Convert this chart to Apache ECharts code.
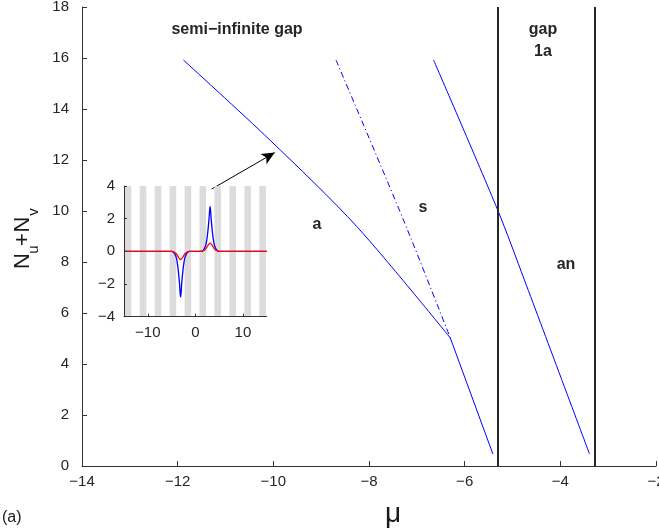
<!DOCTYPE html>
<html>
<head>
<meta charset="utf-8">
<script src="https://cdn.jsdelivr.net/npm/echarts@6/dist/echarts.min.js"></script>
<style>
  html, body { margin: 0; padding: 0; background: #fff; }
  #chart { width: 659px; height: 531px; }
</style>
</head>
<body>
<div id="chart"></div>
<script>
// Soliton families: total power N_u+N_v versus chemical potential mu
const branchA_mu = [-11.88, -10.07, -8.25, -6.30];
const branchA_N  = [15.92, 12.78, 9.38, 5.02];
const branchA2_mu = [-6.30, -5.41];
const branchA2_N  = [5.02, 0.47];
const branchS_mu = [-8.69, -7.28, -6.30];
const branchS_N  = [15.92, 9.65, 5.02];
const branchAn_mu = [-6.65, -5.31, -4.75, -3.39];
const branchAn_N  = [15.92, 10.04, 7.29, 0.47];

// Band edges bounding gap 1a
const gapEdges = [-5.31, -3.29];

// Main axis ticks
const xTicks = [-14, -12, -10, -8, -6, -4, -2];
const yTicks = [0, 2, 4, 6, 8, 10, 12, 14, 16, 18];

// Inset: field profiles u (blue) and v (red) of the soliton
const profX = [-15, -5, -4.6, -4.1, -3.85, -3.6, -3.35, -3.1, -2.85, -2.6, -2.35, -2.1, -1.6, -1.2,
               1.2, 1.6, 2.1, 2.35, 2.6, 2.85, 3.1, 3.35, 3.6, 3.85, 4.1, 4.6, 5, 15];
const profU = [0, 0, -0.04, -0.3, -0.6, -1.15, -1.9, -2.8, -1.9, -1.15, -0.6, -0.3, -0.04, 0,
               0, 0.04, 0.3, 0.6, 1.15, 1.9, 2.75, 1.9, 1.15, 0.6, 0.3, 0.04, 0, 0];
const profV = [0, 0, -0.03, -0.12, -0.22, -0.34, -0.44, -0.5, -0.44, -0.34, -0.22, -0.12, -0.03, 0,
               0, 0.03, 0.12, 0.22, 0.34, 0.44, 0.5, 0.44, 0.34, 0.22, 0.12, 0.03, 0, 0];
// Lattice stripes (centres and width, in x units)
const stripeCenters = [-14.14, -11.0, -7.85, -4.71, -1.57, 1.57, 4.71, 7.85, 11.0, 14.14];
const stripeWidth = 1.38;
const insetXTicks = [-10, 0, 10];
const insetYTicks = [-4, -2, 0, 2, 4];
const insetYRange = [-4, 4];

// Arrow from the inset to the point on branch a
const arrowFrom = [-11.29, 10.86];
const arrowTo = [-9.97, 12.29];

const FONT = '"Liberation Sans", Arial, Helvetica, sans-serif';
const AXIS_COLOR = '#333';
const TEXT_COLOR = '#262626';
const LABEL_COLOR = '#1a1a1a';
const minus = v => String(v).replace('-', '\u2212');
const pairs = (xs, ys) => xs.map((x, i) => [x, ys[i]]);

const chart = echarts.init(document.getElementById('chart'), null, { renderer: 'canvas' });

const lineBase = {
  type: 'line', showSymbol: false, symbol: 'none', silent: true,
  xAxisIndex: 0, yAxisIndex: 0, animation: false
};

// Rotated y-axis title "N_u + N_v" built from pieces (local x = reading direction)
function yTitlePiece(text, size, along, across) {
  return {
    type: 'text', x: along, y: across,
    style: { text: text, fontSize: size, fontFamily: FONT, fill: LABEL_COLOR, align: 'center', verticalAlign: 'middle' }
  };
}
const boldLabel = (text, x, y) => ({
  type: 'text', x: x, y: y, z: 20,
  style: { text: text, fontSize: 16, fontWeight: 'bold', fontFamily: FONT, fill: TEXT_COLOR, align: 'center', verticalAlign: 'middle' }
});

const option = {
  animation: false,
  backgroundColor: '#fff',
  grid: [
    { left: 82, top: 7, right: 3, bottom: 65, containLabel: false, outerBoundsMode: 'none' },
    { left: 124, top: 186, width: 142.7, height: 130.7, containLabel: false, outerBoundsMode: 'none',
      backgroundColor: '#fff', show: true, borderWidth: 0, z: 5 }
  ],
  xAxis: [
    {
      gridIndex: 0, type: 'value', min: -14, max: -2, interval: 2,
      axisLine: { show: true, onZero: false, lineStyle: { color: AXIS_COLOR, width: 1 } },
      axisTick: { show: true, inside: true, length: 5, lineStyle: { color: AXIS_COLOR } },
      axisLabel: { color: TEXT_COLOR, fontSize: 15, fontFamily: FONT, margin: 8, formatter: minus,
                   customValues: xTicks },
      splitLine: { show: false }
    },
    {
      gridIndex: 1, type: 'value', min: -15, max: 15,
      axisLine: { show: true, onZero: false, lineStyle: { color: AXIS_COLOR, width: 1 } },
      axisTick: { show: true, inside: true, length: 3, customValues: insetXTicks, lineStyle: { color: AXIS_COLOR } },
      axisLabel: { color: TEXT_COLOR, fontSize: 15, fontFamily: FONT, margin: 9, formatter: minus,
                   customValues: insetXTicks },
      splitLine: { show: false }, z: 9
    }
  ],
  yAxis: [
    {
      gridIndex: 0, type: 'value', min: 0, max: 18, interval: 2,
      axisLine: { show: true, onZero: false, lineStyle: { color: AXIS_COLOR, width: 1 } },
      axisTick: { show: true, inside: true, length: 5, lineStyle: { color: AXIS_COLOR } },
      axisLabel: { color: TEXT_COLOR, fontSize: 15, fontFamily: FONT, margin: 13, formatter: minus,
                   customValues: yTicks },
      splitLine: { show: false }
    },
    {
      gridIndex: 1, type: 'value', min: insetYRange[0], max: insetYRange[1], interval: 2,
      axisLine: { show: true, onZero: false, lineStyle: { color: AXIS_COLOR, width: 1 } },
      axisTick: { show: true, inside: true, length: 3, lineStyle: { color: AXIS_COLOR } },
      axisLabel: { color: TEXT_COLOR, fontSize: 15, fontFamily: FONT, margin: 9, formatter: minus,
                   customValues: insetYTicks },
      splitLine: { show: false }, z: 9
    }
  ],
  series: [
    Object.assign({}, lineBase, {
      name: 'a', data: pairs(branchA_mu, branchA_N), smooth: 0.3,
      lineStyle: { color: '#0000ff', width: 1 }
    }),
    Object.assign({}, lineBase, {
      name: 'a2', data: pairs(branchA2_mu, branchA2_N),
      lineStyle: { color: '#0000ff', width: 1 }
    }),
    Object.assign({}, lineBase, {
      name: 's', data: pairs(branchS_mu, branchS_N), smooth: 0.3,
      lineStyle: { color: '#0000ff', width: 1, type: [6, 3, 1.2, 3] }
    }),
    Object.assign({}, lineBase, {
      name: 'an', data: pairs(branchAn_mu, branchAn_N), smooth: 0.3,
      lineStyle: { color: '#0000ff', width: 1 }
    }),
    Object.assign({}, lineBase, {
      name: 'edges', data: [[-10, -1]],
      markLine: {
        silent: true, symbol: ['none', 'none'], label: { show: false }, animation: false,
        lineStyle: { color: '#262626', width: 2, type: 'solid' },
        data: gapEdges.map(v => ({ xAxis: v }))
      }
    }),
    Object.assign({}, lineBase, {
      name: 'arrow', data: [[-10, -1]], z: 10,
      markLine: {
        silent: true, symbol: ['none', 'arrow'], symbolSize: [9, 13], label: { show: false }, animation: false,
        lineStyle: { color: '#000', width: 1, type: 'solid' },
        data: [[{ coord: arrowFrom }, { coord: arrowTo }]]
      }
    }),
    // inset: lattice stripes
    {
      type: 'custom', name: 'lattice', xAxisIndex: 1, yAxisIndex: 1, z: 6, silent: true,
      data: stripeCenters.map(c => [c]),
      renderItem: function (params, api) {
        const c = api.value(0);
        const p0 = api.coord([c - stripeWidth / 2, insetYRange[1]]);
        const p1 = api.coord([c + stripeWidth / 2, insetYRange[0]]);
        return {
          type: 'rect',
          shape: { x: p0[0], y: p0[1], width: p1[0] - p0[0], height: p1[1] - p0[1] },
          style: { fill: '#dcdcdc' }
        };
      }
    },
    {
      type: 'line', name: 'u', data: pairs(profX, profU), xAxisIndex: 1, yAxisIndex: 1, z: 7,
      showSymbol: false, symbol: 'none', smooth: 0.4, silent: true,
      lineStyle: { color: '#0000ff', width: 1.3 }
    },
    {
      type: 'line', name: 'v', data: pairs(profX, profV), xAxisIndex: 1, yAxisIndex: 1, z: 8,
      showSymbol: false, symbol: 'none', smooth: 0.4, silent: true,
      lineStyle: { color: '#ff0000', width: 1.3 }
    }
  ],
  graphic: [
    {
      type: 'group', x: 0, y: 237, rotation: Math.PI / 2, z: 20,
      children: [
        yTitlePiece('N', 22, -24, 23),
        yTitlePiece('u', 15, -12.5, 34),
        yTitlePiece('+', 22, -2.5, 23),
        yTitlePiece('N', 22, 12.5, 23),
        yTitlePiece('v', 15, 25, 34)
      ]
    },
    { type: 'text', x: 393, y: 514, z: 20,
      style: { text: '\u03bc', fontSize: 28, fontFamily: FONT, fill: LABEL_COLOR, align: 'center', verticalAlign: 'middle' } },
    { type: 'text', x: 2, y: 518, z: 20,
      style: { text: '(a)', fontSize: 16, fontFamily: FONT, fill: LABEL_COLOR, align: 'left', verticalAlign: 'middle' } },
    boldLabel('semi\u2212infinite gap', 237, 30),
    boldLabel('gap', 543, 30),
    boldLabel('1a', 543, 52),
    boldLabel('a', 317, 225),
    boldLabel('s', 423, 208),
    boldLabel('an', 566, 265)
  ]
};

chart.setOption(option);
</script>
</body>
</html>
